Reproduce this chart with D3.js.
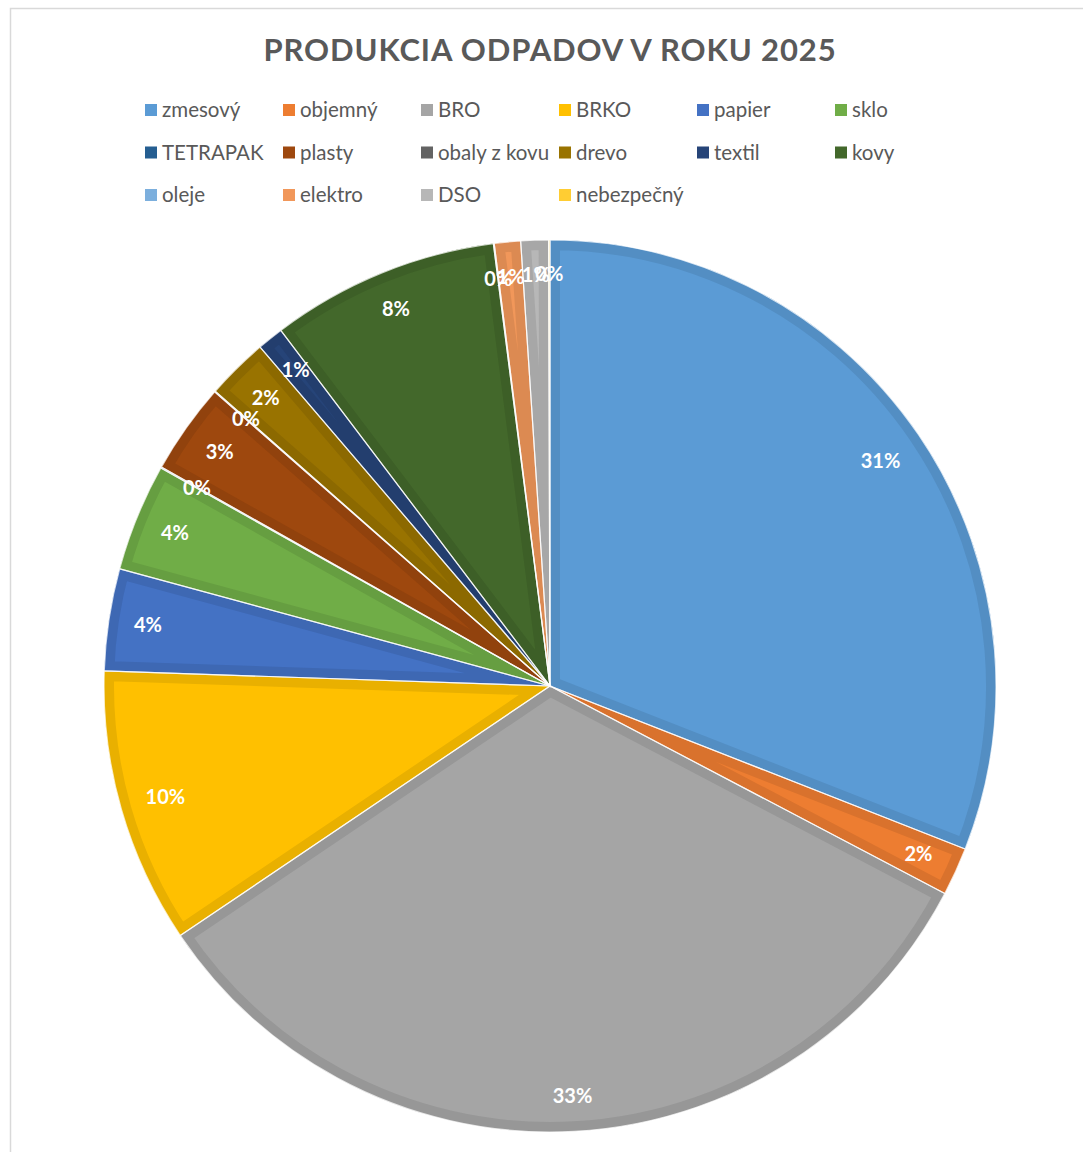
<!DOCTYPE html>
<html>
<head>
<meta charset="utf-8">
<script src="https://cdn.jsdelivr.net/npm/d3@7/dist/d3.min.js"></script>
<style>
  html, body { margin: 0; padding: 0; background: #fff; }
  svg { display: block; }
</style>
</head>
<body>
<svg id="chart" width="1083" height="1152"></svg>
<script>
const title = "PRODUKCIA ODPADOV V ROKU 2025";
const categories = ["zmesový", "objemný", "BRO", "BRKO", "papier", "sklo",
  "TETRAPAK", "plasty", "obaly z kovu", "drevo", "textil", "kovy",
  "oleje", "elektro", "DSO", "nebezpečný"];
const values = [310, 17.5, 329, 100, 37, 39, 0.4, 33, 0.3, 22.5, 9.5, 83, 0.3, 9.5, 10, 0.5];
const colors = ["#5B9BD5", "#ED7D31", "#A5A5A5", "#FFC000", "#4472C4", "#70AD47",
  "#255E91", "#9E480E", "#636363", "#997300", "#264478", "#43682B",
  "#7CAFDD", "#F1975A", "#B7B7B7", "#FFCD33"];

const svg = d3.select("#chart");
const W = 1083, H = 1152;
const cx = 550, cy = 686, R = 446;

// frame
svg.append("rect").attr("x", 10.5).attr("y", 8.5).attr("width", W + 20).attr("height", H + 20)
  .attr("fill", "#fff").attr("stroke", "#d9d9d9").attr("stroke-width", 1.5);

// title
svg.append("text").attr("x", 550).attr("y", 61).attr("text-anchor", "middle")
  .attr("font-family", "Lato, 'Open Sans', sans-serif").attr("font-weight", "bold")
  .attr("font-size", 31).attr("fill", "#595959").attr("letter-spacing", 0.9).text(title);

// legend
const legend = svg.append("g");
const colW = 138, rowH = 42.5, lx0 = 145, ly0 = 110;
categories.forEach((c, i) => {
  const col = i % 6, row = Math.floor(i / 6);
  const g = legend.append("g").attr("transform", `translate(${lx0 + col * colW},${ly0 + row * rowH})`);
  g.append("rect").attr("x", 0).attr("y", -6).attr("width", 12).attr("height", 12).attr("fill", colors[i]);
  g.append("text").attr("x", 17).attr("y", 0).attr("dy", "0.35em")
    .attr("font-family", "Lato, 'Open Sans', sans-serif").attr("font-size", 20.5)
    .attr("fill", "#595959").text(c);
});

// pie
const total = d3.sum(values);
const pie = d3.pie().sort(null).value(d => d)(values);
const arc = d3.arc().innerRadius(0).outerRadius(R);
const defs = svg.append("defs");
const pieG = svg.append("g").attr("transform", `translate(${cx},${cy})`);

pie.forEach((p, i) => {
  const d = arc(p);
  defs.append("clipPath").attr("id", "clip" + i).append("path").attr("d", d);
  const g = pieG.append("g");
  g.append("path").attr("d", d).attr("fill", colors[i]);
  g.append("path").attr("d", d).attr("fill", "none")
    .attr("stroke", d3.color(colors[i]).darker(0.25)).attr("stroke-width", 20)
    .attr("stroke-linejoin", "miter")
    .attr("clip-path", `url(#clip${i})`);
});
// separators
pie.forEach((p, i) => {
  pieG.append("path").attr("d", arc(p)).attr("fill", "none")
    .attr("stroke", "#ffffff").attr("stroke-opacity", 0.75).attr("stroke-width", 1.2);
});

// labels (inside end: label box touches an inner radius)
const edgeR = 422;
pie.forEach((p, i) => {
  const a = (p.startAngle + p.endAngle) / 2;
  const t = pieG.append("text").attr("dy", "0.35em")
    .attr("text-anchor", "middle")
    .attr("font-family", "Lato, 'Open Sans', sans-serif").attr("font-weight", "bold")
    .attr("font-size", 20).attr("fill", "#fff")
    .text(Math.round(values[i] / total * 100) + "%");
  const hw = t.node().getComputedTextLength() / 2, hh = 10;
  const r = edgeR - (hw * Math.abs(Math.sin(a)) + hh * Math.abs(Math.cos(a)));
  t.attr("x", Math.sin(a) * r).attr("y", -Math.cos(a) * r);
});
</script>
</body>
</html>
